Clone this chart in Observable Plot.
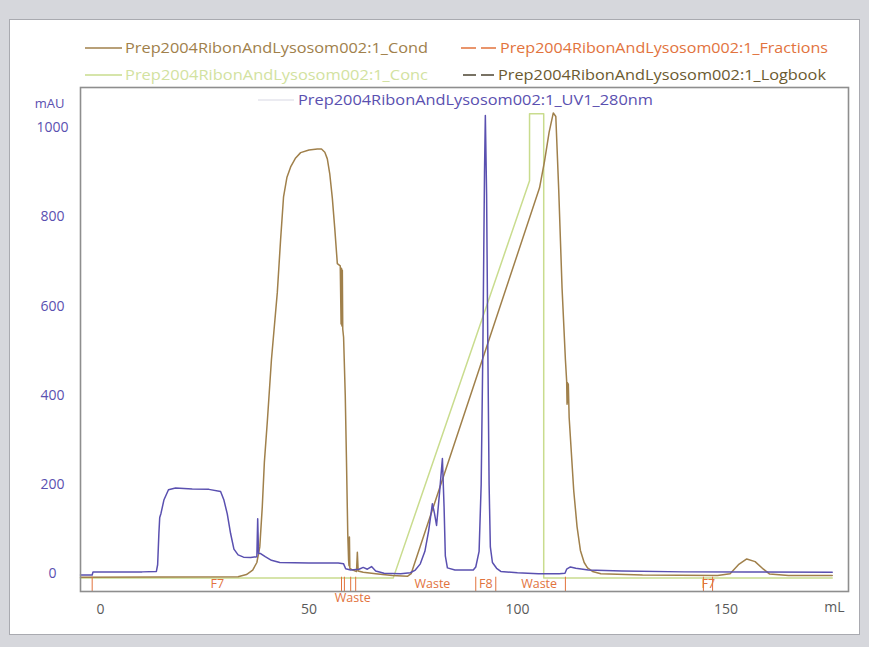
<!DOCTYPE html>
<html><head><meta charset="utf-8">
<script src="https://cdn.jsdelivr.net/npm/d3@7"></script>
<script src="https://cdn.jsdelivr.net/npm/@observablehq/plot@0.6"></script>
<style>
html,body{margin:0;padding:0;background:#d6d7dc;width:869px;height:647px;overflow:hidden;}
#panel{position:absolute;left:9px;top:19px;width:851px;height:616px;background:#fff;border:1px solid #a9aab0;box-sizing:border-box;}
#chart{position:absolute;left:0;top:0;}
#legend{position:absolute;left:0;top:0;}
</style></head><body>
<div id="panel"></div>
<div id="chart"></div>
<svg id="legend" width="869" height="120"></svg>
<script>
// ---- data (mL, mAU-scale) ----
const seriesNames = [
  "Prep2004RibonAndLysosom002:1_Cond",
  "Prep2004RibonAndLysosom002:1_Fractions",
  "Prep2004RibonAndLysosom002:1_Conc",
  "Prep2004RibonAndLysosom002:1_Logbook",
  "Prep2004RibonAndLysosom002:1_UV1_280nm"
];
const yTicks = [0, 200, 400, 600, 800, 1000];
const xTicks = [0, 50, 100, 150];

const condPoints = [[-4.8,-8],[33,-7],[35,-2],[36.5,8],[37.5,25],[38.2,60],[38.8,150],[39.3,250],[40,340],[41,480],[42.4,630],[43.2,750],[43.9,845],[44.7,888],[45.6,912],[46.8,932],[48,944],[50,950],[52,952],[53,952],[53.8,945],[54.4,930],[55,895],[55.6,842],[56.2,772],[56.8,695],[57.5,690],[57.7,560],[57.8,685],[57.9,555],[58.0,680],[58.1,548],[58.3,530],[58.7,400],[59.0,250],[59.3,90],[59.5,30],[59.6,18],[59.7,82],[59.8,12],[60.5,8],[61.4,5],[61.6,48],[61.8,6],[63,3],[66,0],[70,-4],[73.6,-6],[74.5,0],[105.3,865],[106.5,925],[107.6,990],[108.6,1033],[109.2,1025],[109.9,860],[110.7,640],[111.5,480],[111.8,432],[111.9,380],[112.0,428],[112.1,384],[112.2,425],[112.4,350],[113.5,186],[114.3,105],[115.1,52],[116,25],[116.8,13],[118,5],[120,0],[130,-3],[148,-4],[151,0],[153,20],[155,33],[157,27],[159,10],[160.5,-1],[165,-4],[175.5,-4]];

const concPoints = [[-4.8,-10],[70.2,-10],[102.9,881],[102.9,1031],[106.3,1031],[106.3,-10],[175.5,-10]];

const uvPoints = [[-4.8,-3],[-2,-3],[-1.8,4],[0,4],[5,4],[10,4],[13.4,5],[13.7,20],[14.0,90],[14.2,126],[14.5,135],[15.2,165],[16.3,188],[18,192],[22,190],[26,189],[28.8,184],[29.6,165],[30.4,134],[31.2,90],[32,55],[33,42],[34.3,37],[36,36],[37.5,38],[37.7,123],[37.9,45],[38.4,45],[39.5,38],[41,30],[43,25],[50,24],[57,24],[58.3,22],[58.8,11],[60,8],[62,10],[63,14],[64,10],[65,16],[66,6],[68,1],[72,0],[74.3,2],[75.5,8],[76.7,22],[77.8,50],[78.7,96],[79.6,157],[80.1,135],[80.6,108],[81.3,180],[82,258],[82.4,150],[82.7,40],[83.2,13],[85,8],[89.4,8],[90,15],[90.8,50],[91.3,200],[91.7,500],[92.1,900],[92.3,1027],[92.6,850],[92.9,500],[93.2,200],[93.5,60],[94,25],[95,12],[96,5],[100,2],[105,0],[110,0],[111.4,1],[111.8,10],[112.7,15],[114,12],[117,8],[125,6],[140,4],[155,4],[175.5,3]];

const fractionMarks = [-2, 57.8, 58.5, 60, 61.2, 90, 94.8, 111.5, 144.6, 146.8];
const fractionLabels = [[28, "F7"], [79.6, "Waste"], [92.4, "F8"], [105.2, "Waste"], [145.8, "F7"]];
const fractionLabelsBelow = [[60.5, "Waste"]];

// ---- styles ----
const FONT = "'Open Sans', 'Noto Sans', sans-serif";
const C_COND = "#a0804b", C_CONC = "#c9dc8e", C_UV = "#5a50b0", C_FRAC = "#e2733d", C_LOG = "#4c4432";

const chart = Plot.plot({
  width: 869, height: 647,
  marginLeft: 80, marginRight: 21, marginTop: 87, marginBottom: 56,
  style: {background: "transparent", fontFamily: FONT, fontSize: "14px", overflow: "visible"},
  x: {domain: [-4.8, 179.4]},
  y: {domain: [-40, 1090]},
  marks: [
    Plot.axisY({ticks: yTicks, tickSize: 0, tickPadding: 28, textAnchor: "middle", fill: C_UV, tickFormat: d => String(d), label: null}),
    Plot.axisX({ticks: xTicks, tickSize: 0, tickPadding: 13, fill: "#5a5a5a", tickFormat: d => String(d), label: null}),
    Plot.line(concPoints, {x: d => d[0], y: d => d[1], stroke: C_CONC, strokeWidth: 1.5}),
    Plot.line(condPoints, {x: d => d[0], y: d => d[1], stroke: C_COND, strokeWidth: 1.5}),
    Plot.line(uvPoints, {x: d => d[0], y: d => d[1], stroke: C_UV, strokeWidth: 1.5}),
    Plot.ruleX(fractionMarks, {x: d => d, y1: -40, y2: -8, stroke: C_FRAC, strokeWidth: 1}),
    Plot.text(fractionLabels, {x: d => d[0], y: -24, text: d => d[1], fill: C_FRAC, fontSize: 12.5}),
    Plot.text(fractionLabelsBelow, {x: d => d[0], y: -55, text: d => d[1], fill: C_FRAC, fontSize: 12.5}),
    Plot.text(["mL"], {frameAnchor: "bottom-right", textAnchor: "middle", dx: -14, dy: 20, text: d => d, fill: "#5a5a5a", fontSize: 14}),
    Plot.text(["mAU"], {frameAnchor: "top-left", textAnchor: "middle", dx: -31, dy: 11, text: d => d, fill: C_UV, fontSize: 13}),
    Plot.frame({stroke: "#8e8e8e", strokeWidth: 1.6})
  ]
});
document.getElementById("chart").append(chart);

// ---- legend ----
const leg = d3.select("#legend");
const legendLayout = [
  {name: seriesNames[0], color: C_COND, text: C_COND, x1: 85, x2: 122, tx: 125, tw: 303, y: 48, dash: null},
  {name: seriesNames[1], color: C_FRAC, text: C_FRAC, x1: 461, x2: 497, tx: 500, tw: 328, y: 48, dash: "15,5"},
  {name: seriesNames[2], color: C_CONC, text: "#d2e2a0", x1: 85, x2: 122, tx: 125, tw: 303, y: 75, dash: null},
  {name: seriesNames[3], color: C_LOG, text: "#6b5a30", x1: 463, x2: 495, tx: 498, tw: 328, y: 75, dash: "13,5"},
  {name: seriesNames[4], color: "#e4e4ec", text: C_UV, x1: 258, x2: 294, tx: 298, tw: 355, y: 100, dash: null}
];
for (const e of legendLayout) {
  leg.append("line").attr("x1", e.x1).attr("x2", e.x2).attr("y1", e.y).attr("y2", e.y)
    .attr("stroke", e.color).attr("stroke-width", 1.5).attr("stroke-dasharray", e.dash);
  leg.append("text").attr("x", e.tx).attr("y", e.y).attr("dy", "0.35em")
    .attr("fill", e.text).attr("font-family", FONT).attr("font-size", 15)
    .attr("textLength", e.tw).attr("lengthAdjust", "spacingAndGlyphs").text(e.name);
}
</script>
</body></html>
